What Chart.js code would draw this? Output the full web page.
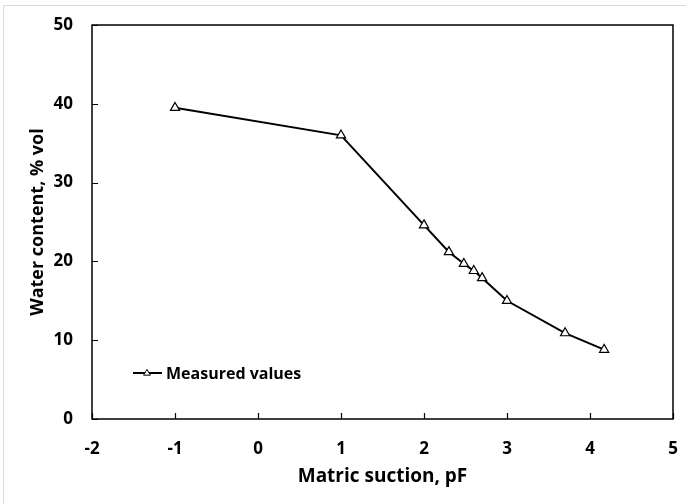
<!DOCTYPE html>
<html>
<head>
<meta charset="utf-8">
<script src="https://cdn.jsdelivr.net/npm/chart.js@4.4.1/dist/chart.umd.min.js"></script>
<style>
  html, body { margin: 0; padding: 0; background: #fff; }
  #wrap { position: relative; width: 686px; height: 504px; overflow: hidden; }
  #frame { position: absolute; left: 3px; top: 5px; right: -10px; bottom: -10px;
           border-left: 1px solid #d9d9d9; border-top: 1px solid #d9d9d9; pointer-events: none; }
  canvas { display: block; }
</style>
</head>
<body>
<div id="wrap">
  <canvas id="chart" width="686" height="504"></canvas>
  <div id="frame"></div>
</div>
<script>
// Water retention curve: water content vs matric suction (pF)

const suctionPF    = [-1, 1, 2, 2.3, 2.48, 2.6, 2.7, 3, 3.7, 4.17];
const waterContent = [39.5, 36.0, 24.6, 21.2, 19.7, 18.8, 17.9, 15.0, 10.9, 8.8];
const seriesLabel  = 'Measured values';
const xTicks = [-2, -1, 0, 1, 2, 3, 4, 5];
const yTicks = [0, 10, 20, 30, 40, 50];

const FONT = '"Open Sans", "Noto Sans", sans-serif';

// ── frame + inward ticks + inline legend ─────────────────────────────────────
const framePlugin = {
    id: 'framePlugin',
    afterDatasetsDraw(chart) {
        const { ctx, chartArea: a, scales: { x, y } } = chart;
        ctx.save();
        ctx.strokeStyle = '#000';
        ctx.lineWidth = 1.5;
        ctx.strokeRect(a.left, a.top, a.right - a.left, a.bottom - a.top);

        ctx.lineWidth = 1.2;
        ctx.beginPath();
        xTicks.forEach(v => {
            const px = Math.round(x.getPixelForValue(v)) + 0.5;
            ctx.moveTo(px, a.bottom);
            ctx.lineTo(px, a.bottom - 6);
        });
        yTicks.forEach(v => {
            const py = Math.round(y.getPixelForValue(v)) + 0.5;
            ctx.moveTo(a.left, py);
            ctx.lineTo(a.left + 6, py);
        });
        ctx.stroke();

        // legend inside plot, lower left
        const lx = a.left + 41, ly = a.bottom - 46;
        ctx.lineWidth = 2;
        ctx.beginPath();
        ctx.moveTo(lx, ly);
        ctx.lineTo(lx + 29, ly);
        ctx.stroke();
        const cx = lx + 14, r = 3.6;
        ctx.beginPath();
        ctx.moveTo(cx, ly - r);
        ctx.lineTo(cx + r * 0.95, ly + r * 0.6);
        ctx.lineTo(cx - r * 0.95, ly + r * 0.6);
        ctx.closePath();
        ctx.fillStyle = '#fff';
        ctx.fill();
        ctx.lineWidth = 1;
        ctx.stroke();

        ctx.fillStyle = '#000';
        ctx.font = 'bold 16px ' + FONT;
        ctx.textBaseline = 'middle';
        ctx.textAlign = 'left';
        ctx.fillText(seriesLabel, lx + 33, ly + 1);
        ctx.restore();
    }
};

// fixed scale boxes, no extra label overhang padding
function fixBox(size) {
    return s => {
        if (s.isHorizontal()) s.height = size; else s.width = size;
        s.paddingTop = s.paddingBottom = s.paddingLeft = s.paddingRight = 0;
    };
}

const points = suctionPF.map((v, i) => ({ x: v, y: waterContent[i] }));

new Chart(document.getElementById('chart'), {
    type: 'scatter',
    data: {
        datasets: [{
            label: seriesLabel,
            data: points,
            showLine: true,
            borderColor: '#000',
            borderWidth: 2,
            pointStyle: 'triangle',
            pointRadius: 5.3,
            pointBorderWidth: 1.2,
            pointBackgroundColor: '#fff',
            pointBorderColor: '#000',
            tension: 0
        }]
    },
    options: {
        responsive: false,
        animation: false,
        layout: { padding: { left: 0, top: 25, right: 13, bottom: 0 } },
        plugins: {
            legend: { display: false },
            tooltip: { enabled: false }
        },
        scales: {
            x: {
                type: 'linear',
                min: -2, max: 5,
                afterBuildTicks: s => { s.ticks = xTicks.map(v => ({ value: v })); },
                afterFit: fixBox(85),
                grid: { display: false, drawTicks: false },
                border: { display: false },
                ticks: {
                    color: '#000',
                    padding: 20,
                    font: { family: FONT, size: 17, weight: 'bold' }
                },
                title: {
                    display: true,
                    text: 'Matric suction, pF',
                    color: '#000',
                    padding: { top: 0, bottom: 16 },
                    font: { family: FONT, size: 19, weight: 'bold' }
                }
            },
            y: {
                type: 'linear',
                min: 0, max: 50,
                afterBuildTicks: s => { s.ticks = yTicks.map(v => ({ value: v })); },
                afterFit: fixBox(92),
                grid: { display: false, drawTicks: false },
                border: { display: false },
                ticks: {
                    color: '#000',
                    padding: 19,
                    font: { family: FONT, size: 17, weight: 'bold' }
                },
                title: {
                    display: true,
                    text: 'Water content, % vol',
                    color: '#000',
                    padding: { top: 27, bottom: 0 },
                    font: { family: FONT, size: 18, weight: 'bold' }
                }
            }
        }
    },
    plugins: [framePlugin]
});
</script>
</body>
</html>
